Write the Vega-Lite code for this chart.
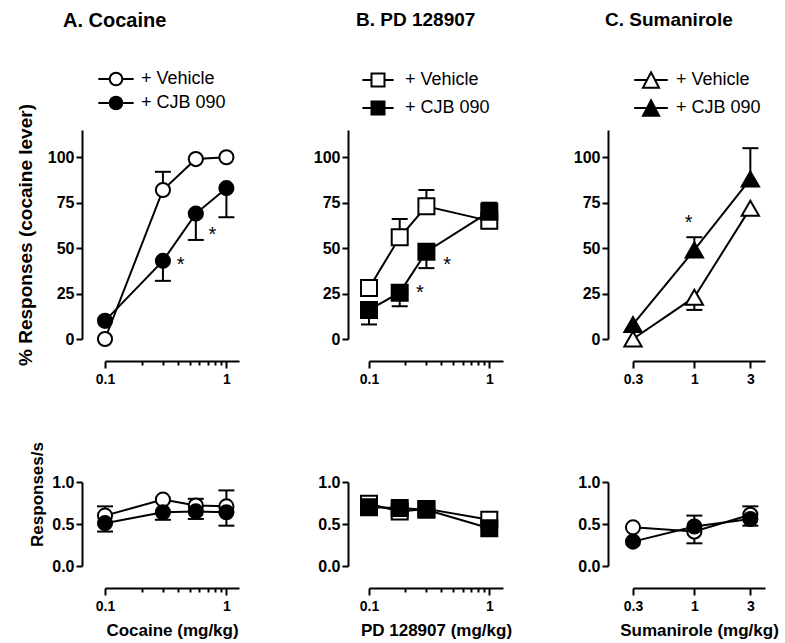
{
  "$schema": "https://vega.github.io/schema/vega-lite/v6.json",
  "background": "white",
  "padding": {"left": 16, "top": 11, "right": 5, "bottom": 5},
  "datasets": {
    "cocTop": [
      {"dose": 0.1, "group": "+ Vehicle", "value": 0, "err": null},
      {"dose": 0.3, "group": "+ Vehicle", "value": 82, "err": 92},
      {"dose": 0.56, "group": "+ Vehicle", "value": 99, "err": null},
      {"dose": 1.0, "group": "+ Vehicle", "value": 100, "err": null},
      {"dose": 0.1, "group": "+ CJB 090", "value": 10, "err": null},
      {"dose": 0.3, "group": "+ CJB 090", "value": 43, "err": 32},
      {"dose": 0.56, "group": "+ CJB 090", "value": 69, "err": 54.5},
      {"dose": 1.0, "group": "+ CJB 090", "value": 83, "err": 67}
    ],
    "pdTop": [
      {"dose": 0.1, "group": "+ Vehicle", "value": 28, "err": null},
      {"dose": 0.18, "group": "+ Vehicle", "value": 56, "err": 66},
      {"dose": 0.3, "group": "+ Vehicle", "value": 73, "err": 82},
      {"dose": 1.0, "group": "+ Vehicle", "value": 65, "err": 61},
      {"dose": 0.1, "group": "+ CJB 090", "value": 16, "err": 8},
      {"dose": 0.18, "group": "+ CJB 090", "value": 25.5, "err": 18},
      {"dose": 0.3, "group": "+ CJB 090", "value": 48, "err": 39},
      {"dose": 1.0, "group": "+ CJB 090", "value": 70, "err": 75}
    ],
    "sumTop": [
      {"dose": 0.3, "group": "+ Vehicle", "value": 0, "err": null},
      {"dose": 1, "group": "+ Vehicle", "value": 23, "err": 16},
      {"dose": 3, "group": "+ Vehicle", "value": 72, "err": null},
      {"dose": 0.3, "group": "+ CJB 090", "value": 8, "err": null},
      {"dose": 1, "group": "+ CJB 090", "value": 49, "err": 56},
      {"dose": 3, "group": "+ CJB 090", "value": 88, "err": 105}
    ],
    "cocBot": [
      {"dose": 0.1, "group": "+ Vehicle", "value": 0.6, "err": 0.71},
      {"dose": 0.3, "group": "+ Vehicle", "value": 0.79, "err": null},
      {"dose": 0.56, "group": "+ Vehicle", "value": 0.72, "err": 0.8},
      {"dose": 1.0, "group": "+ Vehicle", "value": 0.71, "err": 0.9},
      {"dose": 0.1, "group": "+ CJB 090", "value": 0.51, "err": 0.41},
      {"dose": 0.3, "group": "+ CJB 090", "value": 0.64, "err": 0.55},
      {"dose": 0.56, "group": "+ CJB 090", "value": 0.65, "err": 0.56},
      {"dose": 1.0, "group": "+ CJB 090", "value": 0.64, "err": 0.48}
    ],
    "pdBot": [
      {"dose": 0.1, "group": "+ Vehicle", "value": 0.74, "err": 0.81},
      {"dose": 0.18, "group": "+ Vehicle", "value": 0.65, "err": null},
      {"dose": 0.3, "group": "+ Vehicle", "value": 0.68, "err": null},
      {"dose": 1.0, "group": "+ Vehicle", "value": 0.55, "err": null},
      {"dose": 0.1, "group": "+ CJB 090", "value": 0.7, "err": 0.63},
      {"dose": 0.18, "group": "+ CJB 090", "value": 0.69, "err": null},
      {"dose": 0.3, "group": "+ CJB 090", "value": 0.67, "err": null},
      {"dose": 1.0, "group": "+ CJB 090", "value": 0.45, "err": 0.4}
    ],
    "sumBot": [
      {"dose": 0.3, "group": "+ Vehicle", "value": 0.46, "err": null},
      {"dose": 1, "group": "+ Vehicle", "value": 0.41, "err": 0.27},
      {"dose": 3, "group": "+ Vehicle", "value": 0.61, "err": 0.71},
      {"dose": 0.3, "group": "+ CJB 090", "value": 0.29, "err": null},
      {"dose": 1, "group": "+ CJB 090", "value": 0.47, "err": 0.6},
      {"dose": 3, "group": "+ CJB 090", "value": 0.56, "err": 0.48}
    ],
    "starsA": [{"dose": 0.42, "value": 43.6}, {"dose": 0.766, "value": 60}],
    "starsB": [{"dose": 0.265, "value": 28}, {"dose": 0.447, "value": 43.6}],
    "starsC": [{"dose": 0.895, "value": 66.5}]
  },
  "concat": [
    {
      "width": 134, "height": 209,
      "data": {"name": "cocTop"},
      "title": {"text": "A.  Cocaine", "anchor": "start", "frame": "group", "dx": -42, "offset": 39, "fontSize": 20},
      "layer": [
        {"transform": [{"filter": "datum.err != null"}], "mark": {"type": "rule", "color": "black", "strokeWidth": 2},
         "encoding": {
           "x": {"field": "dose", "type": "quantitative", "scale": {"type": "log", "domain": [0.1, 1.27], "nice": false},
                 "axis": {"title": null, "offset": 22, "labelFontSize": 14, "labelPadding": 4, "values": [0.1,0.2,0.3,0.4,0.5,0.6,0.7,0.8,0.9,1], "labelExpr": "datum.value == 0.1 ? '0.1' : datum.value == 1 ? '1' : ''", "labelOverlap": false, "tickSize": {"condition": {"test": "datum.value == 0.1 || datum.value == 1", "value": 7}, "value": 4}}},
           "y": {"field": "value", "type": "quantitative", "scale": {"domain": [0, 115], "nice": false, "zero": false},
                 "axis": {"title": "% Responses (cocaine lever)", "titleFontSize": 19, "titlePadding": 12, "labelFontSize": 16, "labelPadding": 2, "tickSize": 6, "values": [0, 25, 50, 75, 100], "offset": 23}},
           "y2": {"field": "err"}}},
        {"transform": [{"filter": "datum.err != null"}], "mark": {"type": "tick", "orient": "horizontal", "color": "black", "size": 16, "thickness": 2, "opacity": 1},
         "encoding": {
           "x": {"field": "dose", "type": "quantitative", "scale": {"type": "log", "domain": [0.1, 1.27], "nice": false}},
           "y": {"field": "err", "type": "quantitative", "scale": {"domain": [0, 115], "nice": false, "zero": false}}}},
        {"mark": {"type": "line", "color": "black", "strokeWidth": 2},
         "encoding": {
           "x": {"field": "dose", "type": "quantitative", "scale": {"type": "log", "domain": [0.1, 1.27], "nice": false}},
           "y": {"field": "value", "type": "quantitative", "scale": {"domain": [0, 115], "nice": false, "zero": false}},
           "detail": {"field": "group"}}},
        {"mark": {"type": "point", "shape": "circle", "size": 200, "filled": true, "stroke": "black", "strokeWidth": 2, "opacity": 1},
         "encoding": {
           "x": {"field": "dose", "type": "quantitative", "scale": {"type": "log", "domain": [0.1, 1.27], "nice": false}},
           "y": {"field": "value", "type": "quantitative", "scale": {"domain": [0, 115], "nice": false, "zero": false}},
           "fill": {"field": "group", "type": "nominal", "scale": {"domain": ["+ Vehicle", "+ CJB 090"], "range": ["white", "black"]},
                    "legend": {"title": null, "orient": "none", "legendX": 2, "legendY": -60, "symbolType": "M-2.8,0H-1M1,0H2.8M1,0A1,1 0 1,1 -1,0A1,1 0 1,1 1,0Z", "symbolSize": 159, "labelOffset": 16, "rowPadding": 2, "labelFontSize": 18}}}},
        {"data": {"name": "starsA"}, "mark": {"type": "text", "text": "*", "fontSize": 20, "baseline": "middle", "dy": 5, "color": "black"},
         "encoding": {
           "x": {"field": "dose", "type": "quantitative", "scale": {"type": "log", "domain": [0.1, 1.27], "nice": false}},
           "y": {"field": "value", "type": "quantitative", "scale": {"domain": [0, 115], "nice": false, "zero": false}}}}
      ]
    },
    {
      "width": 134, "height": 209,
      "data": {"name": "pdTop"},
      "title": {"text": "B.  PD 128907", "anchor": "start", "frame": "group", "dx": -13, "offset": 41},
      "layer": [
        {"transform": [{"filter": "datum.err != null"}], "mark": {"type": "rule", "color": "black", "strokeWidth": 2},
         "encoding": {
           "x": {"field": "dose", "type": "quantitative", "scale": {"type": "log", "domain": [0.1, 1.3], "nice": false},
                 "axis": {"title": null, "offset": 22, "labelFontSize": 14, "labelPadding": 4, "values": [0.1,0.2,0.3,0.4,0.5,0.6,0.7,0.8,0.9,1], "labelExpr": "datum.value == 0.1 ? '0.1' : datum.value == 1 ? '1' : ''", "labelOverlap": false, "tickSize": {"condition": {"test": "datum.value == 0.1 || datum.value == 1", "value": 7}, "value": 4}}},
           "y": {"field": "value", "type": "quantitative", "scale": {"domain": [0, 115], "nice": false, "zero": false},
                 "axis": {"title": null, "labelFontSize": 16, "labelPadding": 2, "tickSize": 6, "values": [0, 25, 50, 75, 100], "offset": 21}},
           "y2": {"field": "err"}}},
        {"transform": [{"filter": "datum.err != null"}], "mark": {"type": "tick", "orient": "horizontal", "color": "black", "size": 16, "thickness": 2, "opacity": 1},
         "encoding": {
           "x": {"field": "dose", "type": "quantitative", "scale": {"type": "log", "domain": [0.1, 1.3], "nice": false}},
           "y": {"field": "err", "type": "quantitative", "scale": {"domain": [0, 115], "nice": false, "zero": false}}}},
        {"mark": {"type": "line", "color": "black", "strokeWidth": 2},
         "encoding": {
           "x": {"field": "dose", "type": "quantitative", "scale": {"type": "log", "domain": [0.1, 1.3], "nice": false}},
           "y": {"field": "value", "type": "quantitative", "scale": {"domain": [0, 115], "nice": false, "zero": false}},
           "detail": {"field": "group"}}},
        {"mark": {"type": "point", "shape": "square", "size": 256, "filled": true, "stroke": "black", "strokeWidth": 2, "opacity": 1},
         "encoding": {
           "x": {"field": "dose", "type": "quantitative", "scale": {"type": "log", "domain": [0.1, 1.3], "nice": false}},
           "y": {"field": "value", "type": "quantitative", "scale": {"domain": [0, 115], "nice": false, "zero": false}},
           "fill": {"field": "group", "type": "nominal", "scale": {"domain": ["+ Vehicle", "+ CJB 090"], "range": ["white", "black"]},
                    "legend": {"title": null, "orient": "none", "legendX": 0, "legendY": -59, "symbolType": "M-2.4,0H-1M1,0H2.4M-1,-1H1V1H-1Z", "symbolSize": 169, "labelOffset": 18, "rowPadding": 6, "labelFontSize": 18}}}},
        {"data": {"name": "starsB"}, "mark": {"type": "text", "text": "*", "fontSize": 20, "baseline": "middle", "dy": 5, "color": "black"},
         "encoding": {
           "x": {"field": "dose", "type": "quantitative", "scale": {"type": "log", "domain": [0.1, 1.3], "nice": false}},
           "y": {"field": "value", "type": "quantitative", "scale": {"domain": [0, 115], "nice": false, "zero": false}}}}
      ]
    },
    {
      "width": 132, "height": 209,
      "data": {"name": "sumTop"},
      "title": {"text": "C. Sumanirole", "anchor": "start", "frame": "group", "dx": -28, "offset": 41},
      "layer": [
        {"transform": [{"filter": "datum.err != null"}], "mark": {"type": "rule", "color": "black", "strokeWidth": 2},
         "encoding": {
           "x": {"field": "dose", "type": "quantitative", "scale": {"type": "log", "domain": [0.3, 4], "nice": false},
                 "axis": {"title": null, "offset": 22, "labelFontSize": 14, "labelPadding": 4, "values": [0.3, 1, 3], "format": "~g", "tickSize": 7}},
           "y": {"field": "value", "type": "quantitative", "scale": {"domain": [0, 115], "nice": false, "zero": false},
                 "axis": {"title": null, "labelFontSize": 16, "labelPadding": 2, "tickSize": 6, "values": [0, 25, 50, 75, 100], "offset": 25}},
           "y2": {"field": "err"}}},
        {"transform": [{"filter": "datum.err != null"}], "mark": {"type": "tick", "orient": "horizontal", "color": "black", "size": 16, "thickness": 2, "opacity": 1},
         "encoding": {
           "x": {"field": "dose", "type": "quantitative", "scale": {"type": "log", "domain": [0.3, 4], "nice": false}},
           "y": {"field": "err", "type": "quantitative", "scale": {"domain": [0, 115], "nice": false, "zero": false}}}},
        {"mark": {"type": "line", "color": "black", "strokeWidth": 2},
         "encoding": {
           "x": {"field": "dose", "type": "quantitative", "scale": {"type": "log", "domain": [0.3, 4], "nice": false}},
           "y": {"field": "value", "type": "quantitative", "scale": {"domain": [0, 115], "nice": false, "zero": false}},
           "detail": {"field": "group"}}},
        {"mark": {"type": "point", "shape": "triangle-up", "size": 300, "filled": true, "stroke": "black", "strokeWidth": 2, "opacity": 1},
         "encoding": {
           "x": {"field": "dose", "type": "quantitative", "scale": {"type": "log", "domain": [0.3, 4], "nice": false}},
           "y": {"field": "value", "type": "quantitative", "scale": {"domain": [0, 115], "nice": false, "zero": false}},
           "fill": {"field": "group", "type": "nominal", "scale": {"domain": ["+ Vehicle", "+ CJB 090"], "range": ["white", "black"]},
                    "legend": {"title": null, "orient": "none", "legendX": 9, "legendY": -59, "symbolType": "M-2.4,0H-0.58M0.58,0H2.4M0,-1.1L1.15,1.1L-1.15,1.1Z", "symbolSize": 196, "labelOffset": 16, "rowPadding": 4, "labelFontSize": 18}}}},
        {"data": {"name": "starsC"}, "mark": {"type": "text", "text": "*", "fontSize": 20, "baseline": "middle", "dy": 5, "color": "black"},
         "encoding": {
           "x": {"field": "dose", "type": "quantitative", "scale": {"type": "log", "domain": [0.3, 4], "nice": false}},
           "y": {"field": "value", "type": "quantitative", "scale": {"domain": [0, 115], "nice": false, "zero": false}}}}
      ]
    },
    {
      "width": 134, "height": 84,
      "data": {"name": "cocBot"},
      "layer": [
        {"transform": [{"filter": "datum.err != null"}], "mark": {"type": "rule", "color": "black", "strokeWidth": 2},
         "encoding": {
           "x": {"field": "dose", "type": "quantitative", "scale": {"type": "log", "domain": [0.1, 1.27], "nice": false},
                 "axis": {"title": "Cocaine (mg/kg)", "titleFontSize": 17, "titlePadding": 9, "offset": 22, "labelFontSize": 14, "labelPadding": 4, "values": [0.1,0.2,0.3,0.4,0.5,0.6,0.7,0.8,0.9,1], "labelExpr": "datum.value == 0.1 ? '0.1' : datum.value == 1 ? '1' : ''", "labelOverlap": false, "tickSize": {"condition": {"test": "datum.value == 0.1 || datum.value == 1", "value": 7}, "value": 4}}},
           "y": {"field": "value", "type": "quantitative", "scale": {"domain": [0, 1], "nice": false, "zero": false},
                 "axis": {"title": "Responses/s", "titleFontSize": 17, "titlePadding": 5, "titleY": 12, "labelFontSize": 16, "labelPadding": 2, "tickSize": 6, "values": [0, 0.5, 1], "format": ".1f", "offset": 23}},
           "y2": {"field": "err"}}},
        {"transform": [{"filter": "datum.err != null"}], "mark": {"type": "tick", "orient": "horizontal", "color": "black", "size": 16, "thickness": 2, "opacity": 1},
         "encoding": {
           "x": {"field": "dose", "type": "quantitative", "scale": {"type": "log", "domain": [0.1, 1.27], "nice": false}},
           "y": {"field": "err", "type": "quantitative", "scale": {"domain": [0, 1], "nice": false, "zero": false}}}},
        {"mark": {"type": "line", "color": "black", "strokeWidth": 2},
         "encoding": {
           "x": {"field": "dose", "type": "quantitative", "scale": {"type": "log", "domain": [0.1, 1.27], "nice": false}},
           "y": {"field": "value", "type": "quantitative", "scale": {"domain": [0, 1], "nice": false, "zero": false}},
           "detail": {"field": "group"}}},
        {"mark": {"type": "point", "shape": "circle", "size": 200, "filled": true, "stroke": "black", "strokeWidth": 2, "opacity": 1},
         "encoding": {
           "x": {"field": "dose", "type": "quantitative", "scale": {"type": "log", "domain": [0.1, 1.27], "nice": false}},
           "y": {"field": "value", "type": "quantitative", "scale": {"domain": [0, 1], "nice": false, "zero": false}},
           "fill": {"field": "group", "type": "nominal", "scale": {"domain": ["+ Vehicle", "+ CJB 090"], "range": ["white", "black"]}, "legend": null}}}
      ]
    },
    {
      "width": 134, "height": 84,
      "data": {"name": "pdBot"},
      "layer": [
        {"transform": [{"filter": "datum.err != null"}], "mark": {"type": "rule", "color": "black", "strokeWidth": 2},
         "encoding": {
           "x": {"field": "dose", "type": "quantitative", "scale": {"type": "log", "domain": [0.1, 1.3], "nice": false},
                 "axis": {"title": "PD 128907 (mg/kg)", "titleFontSize": 17, "titlePadding": 9, "offset": 22, "labelFontSize": 14, "labelPadding": 4, "values": [0.1,0.2,0.3,0.4,0.5,0.6,0.7,0.8,0.9,1], "labelExpr": "datum.value == 0.1 ? '0.1' : datum.value == 1 ? '1' : ''", "labelOverlap": false, "tickSize": {"condition": {"test": "datum.value == 0.1 || datum.value == 1", "value": 7}, "value": 4}}},
           "y": {"field": "value", "type": "quantitative", "scale": {"domain": [0, 1], "nice": false, "zero": false},
                 "axis": {"title": null, "labelFontSize": 16, "labelPadding": 2, "tickSize": 6, "values": [0, 0.5, 1], "format": ".1f", "offset": 21}},
           "y2": {"field": "err"}}},
        {"transform": [{"filter": "datum.err != null"}], "mark": {"type": "tick", "orient": "horizontal", "color": "black", "size": 16, "thickness": 2, "opacity": 1},
         "encoding": {
           "x": {"field": "dose", "type": "quantitative", "scale": {"type": "log", "domain": [0.1, 1.3], "nice": false}},
           "y": {"field": "err", "type": "quantitative", "scale": {"domain": [0, 1], "nice": false, "zero": false}}}},
        {"mark": {"type": "line", "color": "black", "strokeWidth": 2},
         "encoding": {
           "x": {"field": "dose", "type": "quantitative", "scale": {"type": "log", "domain": [0.1, 1.3], "nice": false}},
           "y": {"field": "value", "type": "quantitative", "scale": {"domain": [0, 1], "nice": false, "zero": false}},
           "detail": {"field": "group"}}},
        {"mark": {"type": "point", "shape": "square", "size": 256, "filled": true, "stroke": "black", "strokeWidth": 2, "opacity": 1},
         "encoding": {
           "x": {"field": "dose", "type": "quantitative", "scale": {"type": "log", "domain": [0.1, 1.3], "nice": false}},
           "y": {"field": "value", "type": "quantitative", "scale": {"domain": [0, 1], "nice": false, "zero": false}},
           "fill": {"field": "group", "type": "nominal", "scale": {"domain": ["+ Vehicle", "+ CJB 090"], "range": ["white", "black"]}, "legend": null}}}
      ]
    },
    {
      "width": 132, "height": 84,
      "data": {"name": "sumBot"},
      "layer": [
        {"transform": [{"filter": "datum.err != null"}], "mark": {"type": "rule", "color": "black", "strokeWidth": 2},
         "encoding": {
           "x": {"field": "dose", "type": "quantitative", "scale": {"type": "log", "domain": [0.3, 4], "nice": false},
                 "axis": {"title": "Sumanirole (mg/kg)", "titleFontSize": 17, "titlePadding": 9, "offset": 22, "labelFontSize": 14, "labelPadding": 4, "values": [0.3, 1, 3], "format": "~g", "tickSize": 7}},
           "y": {"field": "value", "type": "quantitative", "scale": {"domain": [0, 1], "nice": false, "zero": false},
                 "axis": {"title": null, "labelFontSize": 16, "labelPadding": 2, "tickSize": 6, "values": [0, 0.5, 1], "format": ".1f", "offset": 25}},
           "y2": {"field": "err"}}},
        {"transform": [{"filter": "datum.err != null"}], "mark": {"type": "tick", "orient": "horizontal", "color": "black", "size": 16, "thickness": 2, "opacity": 1},
         "encoding": {
           "x": {"field": "dose", "type": "quantitative", "scale": {"type": "log", "domain": [0.3, 4], "nice": false}},
           "y": {"field": "err", "type": "quantitative", "scale": {"domain": [0, 1], "nice": false, "zero": false}}}},
        {"mark": {"type": "line", "color": "black", "strokeWidth": 2},
         "encoding": {
           "x": {"field": "dose", "type": "quantitative", "scale": {"type": "log", "domain": [0.3, 4], "nice": false}},
           "y": {"field": "value", "type": "quantitative", "scale": {"domain": [0, 1], "nice": false, "zero": false}},
           "detail": {"field": "group"}}},
        {"mark": {"type": "point", "shape": "circle", "size": 200, "filled": true, "stroke": "black", "strokeWidth": 2, "opacity": 1},
         "encoding": {
           "x": {"field": "dose", "type": "quantitative", "scale": {"type": "log", "domain": [0.3, 4], "nice": false}},
           "y": {"field": "value", "type": "quantitative", "scale": {"domain": [0, 1], "nice": false, "zero": false}},
           "fill": {"field": "group", "type": "nominal", "scale": {"domain": ["+ Vehicle", "+ CJB 090"], "range": ["white", "black"]}, "legend": null}}}
      ]
    }
  ],
  "columns": 3,
  "bounds": "flush",
  "spacing": {"row": 143, "column": 130},
  "resolve": {"scale": {"x": "independent", "y": "independent", "fill": "independent"}, "legend": {"fill": "independent"}},
  "config": {
    "font": "Liberation Sans",
    "view": {"stroke": null},
    "axis": {"domainColor": "black", "domainWidth": 2, "tickColor": "black", "tickWidth": 2, "labelColor": "black", "labelFont": "Liberation Sans", "labelFontWeight": "bold", "titleFont": "Liberation Sans", "titleFontWeight": "bold", "titleColor": "black", "grid": false, "labelFlush": false},
    "legend": {"labelFont": "Liberation Sans", "labelFontSize": 18, "labelColor": "black", "padding": 0, "symbolStrokeColor": "black", "symbolStrokeWidth": 2, "symbolOpacity": 1},
    "title": {"font": "Liberation Sans", "fontSize": 19, "fontWeight": "bold", "color": "black"}
  }
}
